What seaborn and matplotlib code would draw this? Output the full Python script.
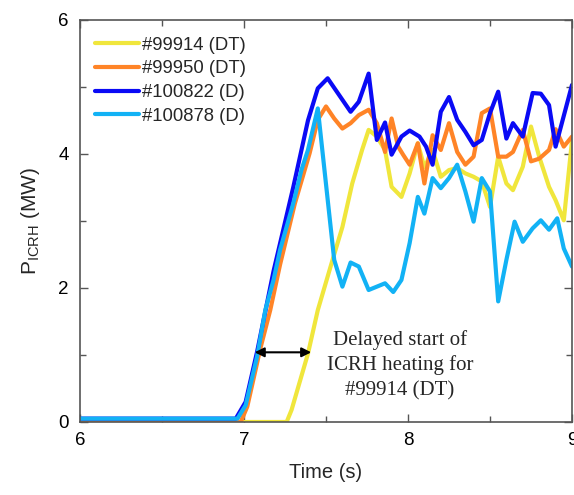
import numpy as np
import pandas as pd
import matplotlib
matplotlib.use("Agg")
import matplotlib.pyplot as plt
from matplotlib.ticker import MultipleLocator
import seaborn as sns

# shot labels (legend order = drawing order)
shots = ["#99914 (DT)", "#99950 (DT)", "#100822 (D)", "#100878 (D)"]
colors = ["#F0E63C", "#FF8427", "#0A0AF5", "#12B2F5"]

# #99914 (DT) - delayed ICRH start
t_99914 = [6.0, 7.26, 7.29, 7.39, 7.45, 7.54, 7.60, 7.66, 7.72, 7.76, 7.81, 7.86, 7.90, 7.96,
           8.01, 8.06, 8.10, 8.15, 8.20, 8.25, 8.30, 8.35, 8.40, 8.45, 8.50, 8.55, 8.60, 8.64,
           8.70, 8.75, 8.80, 8.86, 8.90, 8.95, 9.0]
p_99914 = [0.0, 0.0, 0.18, 1.02, 1.67, 2.42, 2.91, 3.56, 4.06, 4.36, 4.26, 4.06, 3.51, 3.36,
           3.71, 4.16, 3.80, 4.06, 3.66, 3.76, 3.79, 3.71, 3.66, 3.59, 3.21, 3.96, 3.56, 3.46,
           3.81, 4.41, 3.96, 3.51, 3.31, 3.01, 4.20]

# #99950 (DT)
t_99950 = [6.0, 6.98, 7.02, 7.10, 7.16, 7.22, 7.31, 7.40, 7.45, 7.50, 7.55, 7.60, 7.65, 7.70,
           7.76, 7.81, 7.86, 7.90, 7.94, 7.97, 8.01, 8.06, 8.10, 8.15, 8.20, 8.25, 8.30, 8.35,
           8.40, 8.45, 8.50, 8.55, 8.60, 8.64, 8.70, 8.75, 8.80, 8.86, 8.90, 8.95, 9.0]
p_99950 = [0.0, 0.0, 0.23, 1.10, 1.67, 2.35, 3.26, 4.01, 4.51, 4.71, 4.53, 4.38, 4.46, 4.58,
           4.66, 4.46, 4.03, 4.53, 4.11, 3.99, 3.84, 4.16, 3.56, 4.28, 4.06, 4.46, 4.03, 3.84,
           3.96, 4.61, 4.68, 3.96, 3.96, 4.03, 4.36, 3.89, 3.93, 4.06, 4.37, 4.11, 4.26]

# #100822 (D)
t_100822 = [6.0, 6.95, 7.01, 7.08, 7.18, 7.30, 7.39, 7.45, 7.51, 7.58, 7.65, 7.70, 7.76, 7.81,
            7.86, 7.90, 7.96, 8.01, 8.07, 8.11, 8.15, 8.20, 8.25, 8.30, 8.35, 8.40, 8.45, 8.50,
            8.55, 8.60, 8.64, 8.70, 8.76, 8.81, 8.86, 8.90, 9.0]
p_100822 = [0.05, 0.05, 0.30, 1.05, 2.25, 3.50, 4.50, 4.98, 5.13, 4.88, 4.63, 4.78, 5.20, 4.21,
            4.47, 3.99, 4.26, 4.35, 4.26, 4.11, 3.84, 4.63, 4.85, 4.51, 4.33, 4.13, 4.21, 4.61,
            4.93, 4.23, 4.46, 4.26, 4.91, 4.90, 4.73, 4.11, 5.03]

# #100878 (D)
t_100878 = [6.0, 6.96, 7.01, 7.08, 7.13, 7.18, 7.22, 7.30, 7.35, 7.39, 7.45, 7.55, 7.60, 7.65,
            7.70, 7.76, 7.81, 7.86, 7.91, 7.96, 8.01, 8.06, 8.10, 8.15, 8.20, 8.25, 8.30, 8.35,
            8.40, 8.45, 8.50, 8.55, 8.60, 8.65, 8.70, 8.76, 8.81, 8.86, 8.91, 8.95, 9.0]
p_100878 = [0.05, 0.05, 0.25, 0.98, 1.67, 2.12, 2.57, 3.26, 3.76, 4.06, 4.68, 2.42, 2.02, 2.38,
            2.32, 1.97, 2.02, 2.07, 1.94, 2.12, 2.67, 3.36, 3.11, 3.64, 3.49, 3.64, 3.84, 3.44,
            2.99, 3.64, 3.44, 1.80, 2.42, 2.99, 2.69, 2.89, 3.01, 2.87, 3.04, 2.59, 2.32]

times = [t_99914, t_99950, t_100822, t_100878]
powers = [p_99914, p_99950, p_100822, p_100878]

df = pd.concat([pd.DataFrame({"Time": t, "P": p, "shot": s})
                for t, p, s in zip(times, powers, shots)], ignore_index=True)

sns.set_style("ticks")
plt.rcParams["font.family"] = ["Liberation Sans", "DejaVu Sans"]
plt.rcParams["mathtext.fontset"] = "custom"
plt.rcParams["mathtext.rm"] = "Liberation Sans"

fig = plt.figure(figsize=(5.74, 4.95), dpi=100)
ax = fig.add_axes([0.1394, 0.1475, 0.8571, 0.8121])

sns.lineplot(data=df, x="Time", y="P", hue="shot", hue_order=shots,
             palette=dict(zip(shots, colors)), sort=False, estimator=None,
             linewidth=3.0, ax=ax)

ax.set_xlim(6, 9)
ax.set_ylim(0, 6)
ax.xaxis.set_major_locator(MultipleLocator(1))
ax.xaxis.set_minor_locator(MultipleLocator(0.5))
ax.yaxis.set_major_locator(MultipleLocator(2))
ax.yaxis.set_minor_locator(MultipleLocator(1))
ax.tick_params(which="both", direction="in", top=True, right=True, colors="#555555",
               labelcolor="black", labelsize=13.5, width=1.0)
ax.tick_params(which="major", length=6)
ax.tick_params(which="minor", length=4)
ax.tick_params(axis="x", pad=7)
ax.tick_params(axis="y", pad=8)
for sp in ax.spines.values():
    sp.set_color("#555555")
    sp.set_linewidth(1.2)

ax.set_xlabel("Time (s)", fontsize=14.5, labelpad=10)
ax.set_ylabel(r"P$_{\mathregular{ICRH}}$ (MW)", fontsize=15, labelpad=12)

ax.legend(loc="upper left", bbox_to_anchor=(0.0, 0.995), frameon=False,
          fontsize=13.3, handlelength=2.4, handletextpad=0.15,
          labelspacing=0.36, borderaxespad=0.4)

# delayed start annotation
ax.annotate("", xy=(7.065, 1.04), xytext=(7.41, 1.04),
            arrowprops=dict(arrowstyle="<|-|>", color="black", lw=1.5,
                            mutation_scale=14, shrinkA=0, shrinkB=0))
ax.text(7.95, 0.85, "Delayed start of\nICRH heating for\n#99914 (DT)",
        ha="center", va="center", fontsize=15, family="Liberation Serif",
        linespacing=1.4)

fig.savefig("out.png", dpi=100)
